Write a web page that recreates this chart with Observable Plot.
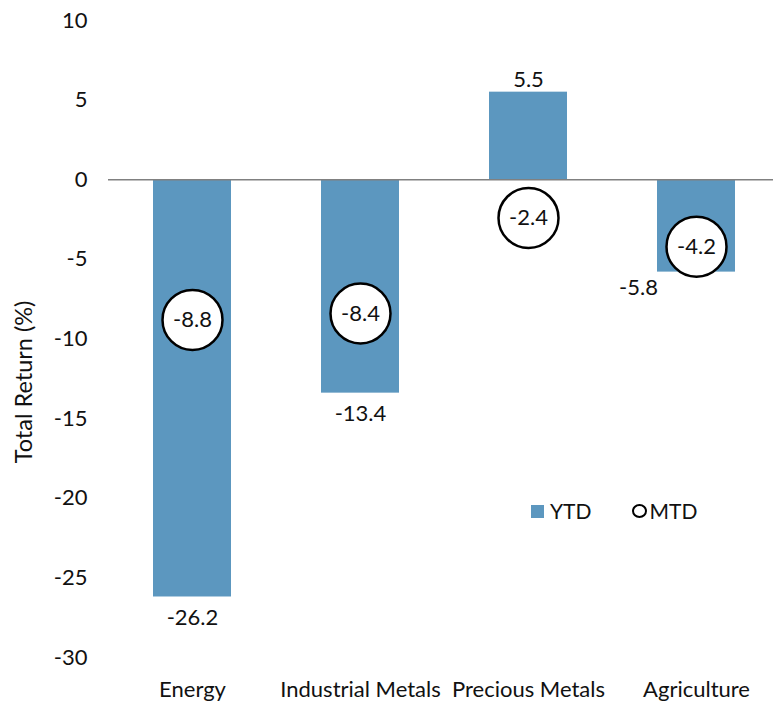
<!DOCTYPE html>
<html>
<head>
<meta charset="utf-8">
<script src="https://cdn.jsdelivr.net/npm/d3@7"></script>
<script src="https://cdn.jsdelivr.net/npm/@observablehq/plot@0.6"></script>
<style>
  html, body { margin: 0; padding: 0; background: #fff; }
  #wrap { position: relative; width: 773px; height: 701px; font-family: Lato, "Open Sans", sans-serif; }
  #legend { position: absolute; left: 531px; top: 498px; display: flex; align-items: center; font-size: 21px; color: #111; line-height: 26px; }
  .sw { display: inline-block; width: 13px; height: 13px; background: #5c97bf; margin-right: 6px; }
  .ci { display: inline-block; width: 11px; height: 10px; border: 2.5px solid #000; border-radius: 50%; margin-right: 2px; margin-left: 41px; }
</style>
</head>
<body>
<div id="wrap">
  <div id="chart"></div>
  <div id="legend"><span class="sw"></span><span>YTD</span><span class="ci"></span><span>MTD</span></div>
</div>
<script>
const categories = ["Energy", "Industrial Metals", "Precious Metals", "Agriculture"];
const ytd = [-26.2, -13.4, 5.5, -5.8];
const mtd = [-8.8, -8.4, -2.4, -4.2];
const yTicks = [-30, -25, -20, -15, -10, -5, 0, 5, 10];

const data = categories.map((c, i) => ({category: c, ytd: ytd[i], mtd: mtd[i]}));
const font = 'Lato, "Open Sans", sans-serif';
const fs = 22;

const chart = Plot.plot({
  width: 773,
  height: 701,
  marginTop: 20,
  marginBottom: 44,
  marginLeft: 108,
  marginRight: 0,
  style: {fontFamily: font, fontSize: fs + "px", color: "#111", background: "#fff"},
  x: {domain: categories, range: [108, 780], paddingInner: 0.535, paddingOuter: 0.2675, label: null},
  y: {domain: [-30, 10], ticks: yTicks, label: null},
  marks: [
    Plot.axisY({ticks: yTicks, tickSize: 0, tickPadding: 21, fontSize: fs, label: null, tickFormat: d => String(d)}),
    Plot.axisX({tickSize: 0, tickPadding: 24, fontSize: fs, label: null}),
    Plot.barY(data, {x: "category", y: "ytd", fill: "#5c97bf"}),
    Plot.ruleY([0], {stroke: "#808080", strokeWidth: 1.5}),
    // YTD labels: above positive bars, below negative bars, beside Agriculture (circle overlaps)
    Plot.text(data.filter(d => d.ytd >= 0), {x: "category", y: "ytd", text: d => d.ytd.toFixed(1), dy: -12, fontSize: fs, fill: "#111"}),
    Plot.text(data.filter(d => d.ytd < 0 && d.category !== "Agriculture"), {x: "category", y: "ytd", text: d => d.ytd.toFixed(1), dy: 21, fontSize: fs, fill: "#111"}),
    Plot.text(data.filter(d => d.category === "Agriculture"), {x: "category", y: "ytd", text: d => d.ytd.toFixed(1), dx: -58, dy: 16, fontSize: fs, fill: "#111"}),
    Plot.dot(data, {x: "category", y: "mtd", r: 30, fill: "#fff", stroke: "#000", strokeWidth: 2.5}),
    Plot.text(data, {x: "category", y: "mtd", text: d => d.mtd.toFixed(1), fontSize: fs, fill: "#111"}),
    Plot.text(["Total Return (%)"], {frameAnchor: "left", textAnchor: "middle", dx: -84, dy: 43, rotate: -90, fontSize: 23.5, fill: "#111"})
  ]
});
document.getElementById("chart").appendChild(chart);
</script>
</body>
</html>
